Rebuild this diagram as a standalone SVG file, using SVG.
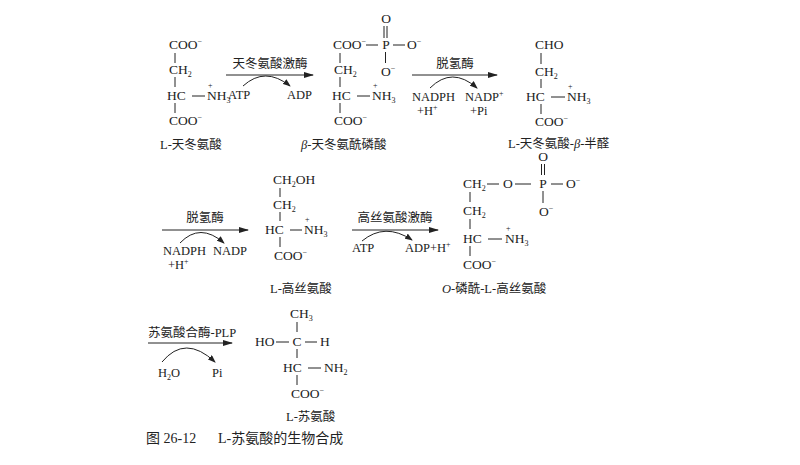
<svg xmlns="http://www.w3.org/2000/svg" width="800" height="465" viewBox="0 0 800 465">
<defs>
<marker id="ah" markerWidth="10" markerHeight="6" refX="9" refY="3" orient="auto" markerUnits="userSpaceOnUse"><path d="M0,0 L10,3 L0,6 Z" fill="#222"/></marker>
<marker id="ah2" markerWidth="8" markerHeight="6" refX="7" refY="3" orient="auto" markerUnits="userSpaceOnUse"><path d="M0,0 L8,3 L0,6 Z" fill="#222"/></marker>
</defs>
<style>
text{font-family:"Liberation Serif","Noto Sans CJK SC",serif;font-size:13.5px;fill:#222}
.s{font-size:8px}
.lb{font-size:12.5px}
.cap{font-size:14px}
line,path.c{stroke:#222;stroke-width:1;fill:none}
</style>
<rect width="800" height="465" fill="#fff"/>
<g id="connectors">
<line x1="226" y1="75" x2="313" y2="75" marker-end="url(#ah)"/>
<path class="c" d="M243,86 Q265,66 290,86" marker-end="url(#ah2)"/>
<line x1="412" y1="75" x2="497" y2="75" marker-end="url(#ah)"/>
<path class="c" d="M430,88 Q452,66 477,88" marker-end="url(#ah2)"/>
<line x1="162" y1="230" x2="248" y2="230" marker-end="url(#ah)"/>
<path class="c" d="M180,243 Q200,222 224,243" marker-end="url(#ah2)"/>
<line x1="352" y1="230" x2="438" y2="230" marker-end="url(#ah)"/>
<path class="c" d="M362,241 Q385,222 412,240" marker-end="url(#ah2)"/>
<line x1="148" y1="343" x2="232" y2="343" marker-end="url(#ah)"/>
<path class="c" d="M162,362 Q185,334 215,362" marker-end="url(#ah2)"/>
</g>
<g id="labels">
<text x="270" y="68" text-anchor="middle" class="lb">天冬氨酸激酶</text>
<text x="228" y="99" class="lb">ATP</text><text x="287" y="99" class="lb">ADP</text>
<text x="455" y="68" text-anchor="middle" class="lb">脱氢酶</text>
<text x="412" y="101" class="lb">NADPH</text><text x="417" y="115" class="lb">+H<tspan class="s" dy="-5">+</tspan></text>
<text x="465" y="101" class="lb">NADP<tspan class="s" dy="-5">+</tspan></text><text x="470" y="115" class="lb">+Pi</text>
<text x="205" y="222" text-anchor="middle" class="lb">脱氢酶</text>
<text x="163" y="255" class="lb">NADPH</text><text x="168" y="269" class="lb">+H<tspan class="s" dy="-5">+</tspan></text>
<text x="213" y="255" class="lb">NADP</text>
<text x="395" y="222" text-anchor="middle" class="lb">高丝氨酸激酶</text>
<text x="352" y="252" class="lb">ATP</text><text x="405" y="252" class="lb">ADP+H<tspan class="s" dy="-5">+</tspan></text>
<text x="148" y="337" class="lb">苏氨酸合酶-PLP</text>
<text x="158" y="377" class="lb">H<tspan class="s" dy="3">2</tspan><tspan dy="-3">O</tspan></text>
<text x="212" y="377" class="lb">Pi</text>
</g>
<g id="asp">
<text x="169" y="49">COO<tspan class="s" dy="-5">−</tspan></text>
<line x1="175" y1="53" x2="175" y2="63"/>
<text x="169" y="74">CH<tspan class="s" dy="3">2</tspan></text>
<line x1="175" y1="77" x2="175" y2="87"/>
<text x="167" y="100">HC</text><line x1="192" y1="96" x2="205" y2="96"/>
<text x="207" y="100">NH<tspan class="s" dy="3">3</tspan></text><text x="208" y="88" class="s">+</text>
<line x1="175" y1="103" x2="175" y2="113"/>
<text x="169" y="125">COO<tspan class="s" dy="-5">−</tspan></text>
<text x="160" y="149" class="lb">L-天冬氨酸</text>
</g>
<g id="asp-p">
<text x="386" y="23" text-anchor="middle">O</text>
<line x1="384" y1="26" x2="384" y2="38"/><line x1="387" y1="26" x2="387" y2="38"/>
<text x="333" y="49">COO<tspan class="s" dy="-5">−</tspan></text>
<line x1="366" y1="45" x2="378" y2="45"/>
<text x="386" y="49" text-anchor="middle">P</text>
<line x1="393" y1="45" x2="405" y2="45"/>
<text x="407" y="49">O<tspan class="s" dy="-5">−</tspan></text>
<line x1="385.5" y1="52" x2="385.5" y2="63"/>
<text x="381" y="76">O<tspan class="s" dy="-5">−</tspan></text>
<line x1="340" y1="53" x2="340" y2="63"/>
<text x="334" y="74">CH<tspan class="s" dy="3">2</tspan></text>
<line x1="340" y1="77" x2="340" y2="87"/>
<text x="332" y="100">HC</text><line x1="357" y1="96" x2="370" y2="96"/>
<text x="372" y="100">NH<tspan class="s" dy="3">3</tspan></text><text x="373" y="88" class="s">+</text>
<line x1="340" y1="103" x2="340" y2="113"/>
<text x="334" y="125">COO<tspan class="s" dy="-5">−</tspan></text>
<text x="301" y="149" class="lb"><tspan font-style="italic">β</tspan>-天冬氨酰磷酸</text>
</g>
<g id="asp-sa">
<text x="535" y="49">CHO</text>
<line x1="541" y1="53" x2="541" y2="64"/>
<text x="535" y="76">CH<tspan class="s" dy="3">2</tspan></text>
<line x1="541" y1="79" x2="541" y2="88"/>
<text x="526" y="101">HC</text><line x1="551" y1="97" x2="565" y2="97"/>
<text x="567" y="101">NH<tspan class="s" dy="3">3</tspan></text><text x="568" y="89" class="s">+</text>
<line x1="541" y1="104" x2="541" y2="114"/>
<text x="535" y="126">COO<tspan class="s" dy="-5">−</tspan></text>
<text x="508" y="148" class="lb">L-天冬氨酸-<tspan font-style="italic">β</tspan>-半醛</text>
</g>
<g id="homoserine">
<text x="273" y="184">CH<tspan class="s" dy="3">2</tspan><tspan dy="-3">OH</tspan></text>
<line x1="280" y1="188" x2="280" y2="197"/>
<text x="273" y="209">CH<tspan class="s" dy="3">2</tspan></text>
<line x1="280" y1="212" x2="280" y2="221"/>
<text x="265" y="234">HC</text><line x1="290" y1="230" x2="302" y2="230"/>
<text x="304" y="234">NH<tspan class="s" dy="3">3</tspan></text><text x="305" y="222" class="s">+</text>
<line x1="280" y1="237" x2="280" y2="247"/>
<text x="274" y="260">COO<tspan class="s" dy="-5">−</tspan></text>
<text x="270" y="293" class="lb">L-高丝氨酸</text>
</g>
<g id="p-homoserine">
<text x="543" y="161" text-anchor="middle">O</text>
<line x1="541.5" y1="164" x2="541.5" y2="175"/><line x1="544.5" y1="164" x2="544.5" y2="175"/>
<text x="463" y="188">CH<tspan class="s" dy="3">2</tspan></text>
<line x1="487" y1="184" x2="499" y2="184"/>
<text x="503" y="188">O</text>
<line x1="515" y1="184" x2="531" y2="184"/>
<text x="543" y="188" text-anchor="middle">P</text>
<line x1="551" y1="184" x2="563" y2="184"/>
<text x="566" y="188">O<tspan class="s" dy="-5">−</tspan></text>
<line x1="543" y1="191" x2="543" y2="203"/>
<text x="539" y="216">O<tspan class="s" dy="-5">−</tspan></text>
<line x1="470" y1="192" x2="470" y2="202"/>
<text x="463" y="215">CH<tspan class="s" dy="3">2</tspan></text>
<line x1="470" y1="219" x2="470" y2="229"/>
<text x="463" y="243">HC</text><line x1="488" y1="239" x2="502" y2="239"/>
<text x="505" y="243">NH<tspan class="s" dy="3">3</tspan></text><text x="506" y="231" class="s">+</text>
<line x1="470" y1="246" x2="470" y2="256"/>
<text x="463" y="269">COO<tspan class="s" dy="-5">−</tspan></text>
<text x="442" y="293" class="lb"><tspan font-style="italic">O</tspan>-磷酰-L-高丝氨酸</text>
</g>
<g id="threonine">
<text x="290" y="318">CH<tspan class="s" dy="3">3</tspan></text>
<line x1="297" y1="322" x2="297" y2="332"/>
<text x="255" y="346">HO</text><line x1="276" y1="342" x2="289" y2="342"/>
<text x="297" y="346" text-anchor="middle">C</text>
<line x1="305" y1="342" x2="317" y2="342"/><text x="320" y="346">H</text>
<line x1="297" y1="349" x2="297" y2="358"/>
<text x="283" y="372">HC</text><line x1="308" y1="368" x2="321" y2="368"/>
<text x="324" y="372">NH<tspan class="s" dy="3">2</tspan></text>
<line x1="297" y1="375" x2="297" y2="385"/>
<text x="291" y="398">COO<tspan class="s" dy="-5">−</tspan></text>
<text x="286" y="421" class="lb">L-苏氨酸</text>
</g>
<g id="caption">
<text x="146" y="443" class="cap">图 26-12</text>
<text x="218" y="443" class="cap">L-苏氨酸的生物合成</text>
</g>
</svg>
